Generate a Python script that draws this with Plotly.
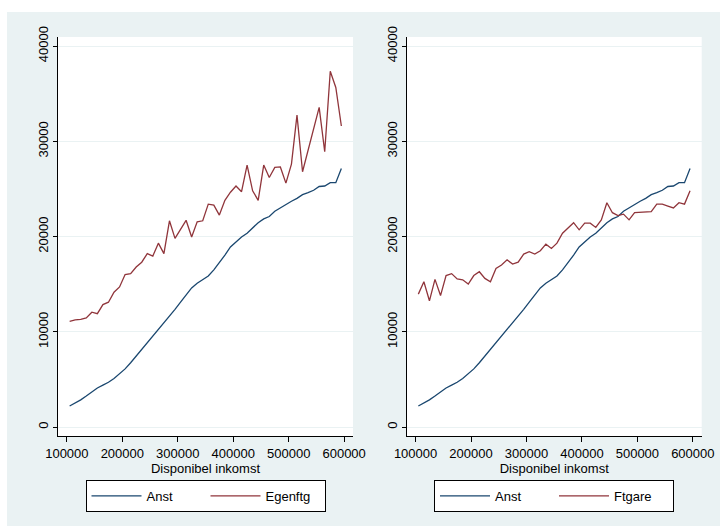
import plotly.graph_objects as go

# ---- data ----
income = [105000, 115000, 125000, 135000, 145000, 155000, 165000, 175000, 185000, 195000,
          205000, 215000, 225000, 235000, 245000, 255000, 265000, 275000, 285000, 295000,
          305000, 315000, 325000, 335000, 345000, 355000, 365000, 375000, 385000, 395000,
          405000, 415000, 425000, 435000, 445000, 455000, 465000, 475000, 485000, 495000,
          505000, 515000, 525000, 535000, 545000, 555000, 565000, 575000, 585000, 595000]

anst = [2200, 2500, 2850, 3250, 3700, 4100, 4400, 4700, 5100, 5600,
        6100, 6750, 7450, 8050, 8750, 9450, 10200, 10950, 11650, 12350,
        13100, 13850, 14600, 15100, 15450, 15850, 16500, 17250, 18050, 18900,
        19450, 19950, 20350, 20900, 21450, 21850, 22100, 22650, 23000, 23400,
        23700, 24000, 24400, 24600, 24850, 25250, 25300, 25650, 25650, 27150]

egenftg = [11100, 11250, 11300, 11450, 12050, 11900, 12850, 13100, 14150, 14700,
           16000, 16100, 16800, 17300, 18200, 17950, 19300, 18200, 21650, 19800,
           20750, 21700, 19950, 21550, 21650, 23400, 23300, 22250, 23800, 24650,
           25300, 24700, 27500, 24800, 23800, 27500, 26200, 27250, 27300, 25600,
           27600, 32750, 26800, 29000, 31300, 33550, 28900, 37350, 35650, 31600]

ftgare = [13950, 15250, 13250, 15500, 13800, 15900, 16100, 15550, 15450, 15000,
          15900, 16300, 15600, 15250, 16650, 17000, 17550, 17100, 17300, 18150,
          18400, 18150, 18500, 19200, 18750, 19300, 20350, 20950, 21450, 20700,
          21400, 21400, 20950, 21750, 23550, 22500, 22200, 22350, 21750, 22500,
          22550, 22550, 22600, 23400, 23400, 23200, 23000, 23550, 23400, 24800]

x_ticks = [100000, 200000, 300000, 400000, 500000, 600000]
y_ticks = [0, 10000, 20000, 30000, 40000]
x_title = "Disponibel inkomst"

# ---- style ----
NAVY = "#1A476F"
MAROON = "#90353B"
REGION = "#EAF2F3"
FONT = "Liberation Sans, Arial, sans-serif"
W, H = 720, 526

fig = go.Figure()

fig.add_trace(go.Scatter(x=income, y=anst, name="Anst", mode="lines",
                         line=dict(color=NAVY, width=1.3), xaxis="x", yaxis="y", legend="legend"))
fig.add_trace(go.Scatter(x=income, y=egenftg, name="Egenftg", mode="lines",
                         line=dict(color=MAROON, width=1.3), xaxis="x", yaxis="y", legend="legend"))
fig.add_trace(go.Scatter(x=income, y=anst, name="Anst", mode="lines",
                         line=dict(color=NAVY, width=1.3), xaxis="x2", yaxis="y2", legend="legend2"))
fig.add_trace(go.Scatter(x=income, y=ftgare, name="Ftgare", mode="lines",
                         line=dict(color=MAROON, width=1.3), xaxis="x2", yaxis="y2", legend="legend2"))

def px_x(p):
    return p / W

def px_y(p):
    return 1 - p / H

xrange_ = [84000, 616000]
yrange_ = [-945, 40945]

common_x = dict(range=xrange_, tickvals=x_ticks, tickformat="d", showgrid=False,
                showline=True, linecolor="#000000", linewidth=1, ticks="outside",
                ticklen=5, tickcolor="#000000", zeroline=False, automargin=False,
                tickfont=dict(family=FONT, size=13, color="#000000"),
                title=dict(text=x_title, font=dict(family=FONT, size=13, color="#000000"), standoff=0))
common_y = dict(range=yrange_, tickvals=y_ticks, tickformat="d", showgrid=True,
                gridcolor=REGION, gridwidth=1, showline=True, linecolor="#000000",
                linewidth=1, ticks="outside", ticklen=4, tickcolor="#000000",
                zeroline=False, automargin=False, tickangle=-90,
                tickfont=dict(family=FONT, size=13, color="#000000"))

ydom = [px_y(436), px_y(37)]

legend_style = dict(orientation="h", xanchor="center", y=px_y(480), yanchor="top",
                    bgcolor="#FFFFFF", bordercolor="#000000", borderwidth=1,
                    font=dict(family=FONT, size=13, color="#000000"), itemwidth=50,
                    entrywidth=54, tracegroupgap=0)

fig.update_layout(
    width=W, height=H,
    margin=dict(l=0, r=0, t=0, b=0),
    paper_bgcolor=REGION,
    plot_bgcolor="#FFFFFF",
    font=dict(family=FONT, size=13, color="#000000"),
    xaxis=dict(domain=[px_x(58), px_x(353)], anchor="y", **common_x),
    yaxis=dict(domain=ydom, anchor="x", **common_y),
    xaxis2=dict(domain=[px_x(406.7), px_x(701.7)], anchor="y2", **common_x),
    yaxis2=dict(domain=ydom, anchor="x2", **common_y),
    legend=dict(x=px_x(205.5), **legend_style),
    legend2=dict(x=px_x(554), **legend_style),
    shapes=[
        dict(type="rect", xref="paper", yref="paper", x0=0, x1=1, y0=px_y(12), y1=1.01,
             fillcolor="#FFFFFF", line=dict(width=0), layer="below"),
        dict(type="rect", xref="paper", yref="paper", x0=-0.01, x1=px_x(7), y0=-0.01, y1=1.01,
             fillcolor="#FFFFFF", line=dict(width=0), layer="below"),
    ],
)

fig.write_html("out.html", config={"displayModeBar": False},
               post_script="document.body.style.margin='0';document.body.style.overflow='hidden';")
